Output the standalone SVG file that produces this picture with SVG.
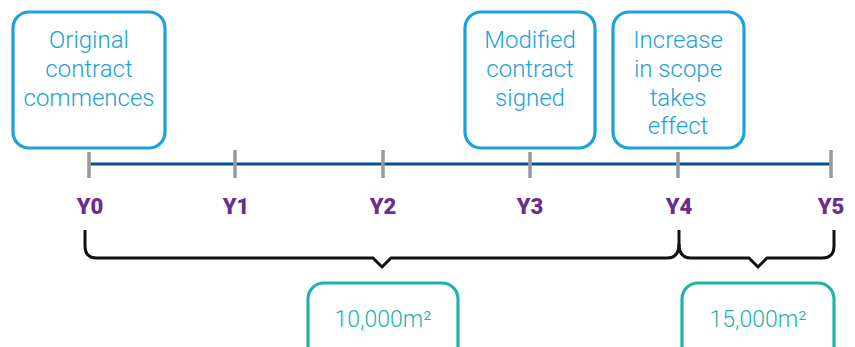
<svg xmlns="http://www.w3.org/2000/svg" width="855" height="347" viewBox="0 0 855 347">
<style>
.ev rect{fill:#fff;stroke:#1ba1db;stroke-width:3.2}
.ev text{fill:#1ba1db;font-family:Roboto,"Liberation Sans",sans-serif;font-weight:300;font-size:24px;text-anchor:middle}
.area rect{fill:#fff;stroke:#1cb3a8;stroke-width:3.2}
.area text{fill:#1cb3a8;font-family:Roboto,"Liberation Sans",sans-serif;font-weight:300;font-size:23px;text-anchor:middle}
.yr{fill:#6b2c8e;font-family:Roboto,"Liberation Sans",sans-serif;font-weight:900;font-size:22px;text-anchor:middle}
.tick{stroke:#9a9a9a;stroke-width:3.5}
.brace{fill:none;stroke:#111;stroke-width:3;stroke-linejoin:miter}
</style>
<rect width="855" height="347" fill="#fff"/>
<g id="connectors">
<line x1="89" y1="164" x2="831" y2="164" stroke="#0b4f93" stroke-width="3.2"/>
<line class="tick" x1="89" y1="152" x2="89" y2="178"/>
<line class="tick" x1="235" y1="150" x2="235" y2="178"/>
<line class="tick" x1="383" y1="150" x2="383" y2="178"/>
<line class="tick" x1="530" y1="152" x2="530" y2="178"/>
<line class="tick" x1="678" y1="152" x2="678" y2="178"/>
<line class="tick" x1="831" y1="150" x2="831" y2="178"/>
<path class="brace" d="M85,230 V246 Q85,258 97,258 H373 L382,267 L391,258 H667 Q679,258 679,244 V230"/>
<path class="brace" d="M679,244 Q679,258 691,258 H749 L758,267 L767,258 H822 Q834,258 834,246 V230"/>
</g>
<g id="ev-original" class="ev">
<rect x="13" y="12" width="152" height="136" rx="16"/>
<text x="89" y="48">Original</text>
<text x="89" y="77">contract</text>
<text x="89" y="106">commences</text>
</g>
<g id="ev-modified" class="ev">
<rect x="465" y="12" width="130" height="136" rx="16"/>
<text x="530" y="48">Modified</text>
<text x="530" y="77">contract</text>
<text x="530" y="106">signed</text>
</g>
<g id="ev-increase" class="ev">
<rect x="613" y="12" width="131" height="136" rx="16"/>
<text x="678" y="48">Increase</text>
<text x="678" y="77">in scope</text>
<text x="678" y="106">takes</text>
<text x="678" y="134">effect</text>
</g>
<g id="years">
<text class="yr" x="90" y="214">Y0</text>
<text class="yr" x="236" y="214">Y1</text>
<text class="yr" x="383" y="214">Y2</text>
<text class="yr" x="530" y="214">Y3</text>
<text class="yr" x="679" y="214">Y4</text>
<text class="yr" x="831" y="214">Y5</text>
</g>
<g id="area-10000" class="area">
<rect x="308" y="283" width="150" height="90" rx="16"/>
<text x="383" y="327">10,000m²</text>
</g>
<g id="area-15000" class="area">
<rect x="682" y="283" width="152" height="90" rx="16"/>
<text x="758" y="327">15,000m²</text>
</g>
</svg>
